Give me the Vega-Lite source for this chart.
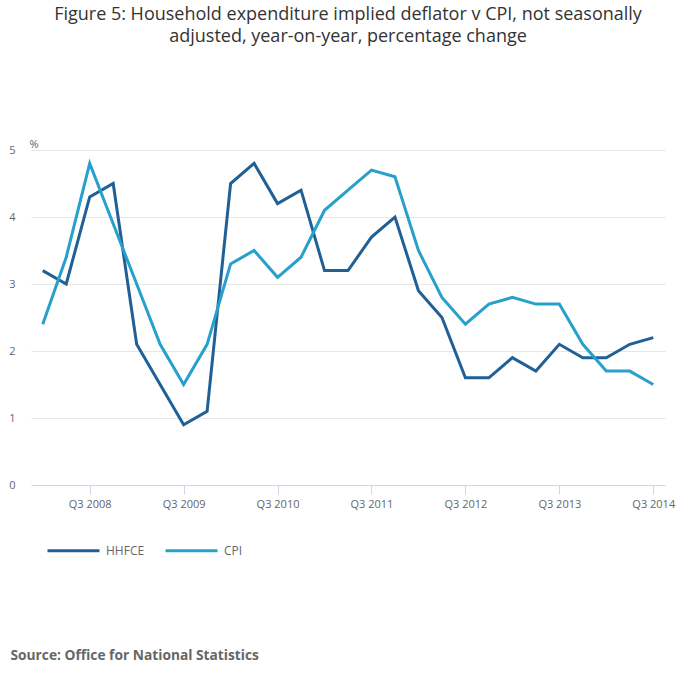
{
  "$schema": "https://vega.github.io/schema/vega-lite/v6.json",
  "width": 634,
  "height": 335,
  "autosize": "none",
  "padding": {"left": 31, "top": 150, "right": 35, "bottom": 197},
  "background": "white",
  "config": {
    "font": "Open Sans",
    "view": {"stroke": null}
  },
  "title": {
    "text": ["Figure 5: Household expenditure implied deflator v CPI, not seasonally", "adjusted, year-on-year, percentage change"],
    "fontSize": 18,
    "fontWeight": "normal",
    "color": "#333333",
    "lineHeight": 22,
    "anchor": "middle",
    "frame": "group",
    "offset": 92
  },
  "data": {
    "values": [
      {"quarter": "Q1 2008", "series": "HHFCE", "value": 3.2},
      {"quarter": "Q2 2008", "series": "HHFCE", "value": 3.0},
      {"quarter": "Q3 2008", "series": "HHFCE", "value": 4.3},
      {"quarter": "Q4 2008", "series": "HHFCE", "value": 4.5},
      {"quarter": "Q1 2009", "series": "HHFCE", "value": 2.1},
      {"quarter": "Q2 2009", "series": "HHFCE", "value": 1.5},
      {"quarter": "Q3 2009", "series": "HHFCE", "value": 0.9},
      {"quarter": "Q4 2009", "series": "HHFCE", "value": 1.1},
      {"quarter": "Q1 2010", "series": "HHFCE", "value": 4.5},
      {"quarter": "Q2 2010", "series": "HHFCE", "value": 4.8},
      {"quarter": "Q3 2010", "series": "HHFCE", "value": 4.2},
      {"quarter": "Q4 2010", "series": "HHFCE", "value": 4.4},
      {"quarter": "Q1 2011", "series": "HHFCE", "value": 3.2},
      {"quarter": "Q2 2011", "series": "HHFCE", "value": 3.2},
      {"quarter": "Q3 2011", "series": "HHFCE", "value": 3.7},
      {"quarter": "Q4 2011", "series": "HHFCE", "value": 4.0},
      {"quarter": "Q1 2012", "series": "HHFCE", "value": 2.9},
      {"quarter": "Q2 2012", "series": "HHFCE", "value": 2.5},
      {"quarter": "Q3 2012", "series": "HHFCE", "value": 1.6},
      {"quarter": "Q4 2012", "series": "HHFCE", "value": 1.6},
      {"quarter": "Q1 2013", "series": "HHFCE", "value": 1.9},
      {"quarter": "Q2 2013", "series": "HHFCE", "value": 1.7},
      {"quarter": "Q3 2013", "series": "HHFCE", "value": 2.1},
      {"quarter": "Q4 2013", "series": "HHFCE", "value": 1.9},
      {"quarter": "Q1 2014", "series": "HHFCE", "value": 1.9},
      {"quarter": "Q2 2014", "series": "HHFCE", "value": 2.1},
      {"quarter": "Q3 2014", "series": "HHFCE", "value": 2.2},
      {"quarter": "Q1 2008", "series": "CPI", "value": 2.4},
      {"quarter": "Q2 2008", "series": "CPI", "value": 3.4},
      {"quarter": "Q3 2008", "series": "CPI", "value": 4.8},
      {"quarter": "Q4 2008", "series": "CPI", "value": 3.9},
      {"quarter": "Q1 2009", "series": "CPI", "value": 3.0},
      {"quarter": "Q2 2009", "series": "CPI", "value": 2.1},
      {"quarter": "Q3 2009", "series": "CPI", "value": 1.5},
      {"quarter": "Q4 2009", "series": "CPI", "value": 2.1},
      {"quarter": "Q1 2010", "series": "CPI", "value": 3.3},
      {"quarter": "Q2 2010", "series": "CPI", "value": 3.5},
      {"quarter": "Q3 2010", "series": "CPI", "value": 3.1},
      {"quarter": "Q4 2010", "series": "CPI", "value": 3.4},
      {"quarter": "Q1 2011", "series": "CPI", "value": 4.1},
      {"quarter": "Q2 2011", "series": "CPI", "value": 4.4},
      {"quarter": "Q3 2011", "series": "CPI", "value": 4.7},
      {"quarter": "Q4 2011", "series": "CPI", "value": 4.6},
      {"quarter": "Q1 2012", "series": "CPI", "value": 3.5},
      {"quarter": "Q2 2012", "series": "CPI", "value": 2.8},
      {"quarter": "Q3 2012", "series": "CPI", "value": 2.4},
      {"quarter": "Q4 2012", "series": "CPI", "value": 2.7},
      {"quarter": "Q1 2013", "series": "CPI", "value": 2.8},
      {"quarter": "Q2 2013", "series": "CPI", "value": 2.7},
      {"quarter": "Q3 2013", "series": "CPI", "value": 2.7},
      {"quarter": "Q4 2013", "series": "CPI", "value": 2.1},
      {"quarter": "Q1 2014", "series": "CPI", "value": 1.7},
      {"quarter": "Q2 2014", "series": "CPI", "value": 1.7},
      {"quarter": "Q3 2014", "series": "CPI", "value": 1.5}
    ]
  },
  "mark": {"type": "line", "strokeWidth": 3, "strokeCap": "butt", "strokeJoin": "miter"},
  "encoding": {
    "x": {
      "field": "quarter",
      "type": "ordinal",
      "sort": null,
      "scale": {"type": "point", "padding": 0.5},
      "axis": {
        "values": ["Q3 2008", "Q3 2009", "Q3 2010", "Q3 2011", "Q3 2012", "Q3 2013", "Q3 2014"],
        "labelAngle": 0,
        "labelFontSize": 11,
        "labelColor": "#666666",
        "labelPadding": 4,
        "domainColor": "#ccd6eb",
        "tickColor": "#ccd6eb",
        "tickSize": 9,
        "grid": false,
        "title": "Source: Office for National Statistics",
        "titleFontSize": 13.75,
        "titleFontWeight": "bold",
        "titleColor": "#666666",
        "titleAnchor": "start",
        "titleAlign": "left",
        "titleBaseline": "middle",
        "titleX": -21,
        "titleY": 170
      }
    },
    "y": {
      "field": "value",
      "type": "quantitative",
      "scale": {"domain": [0, 5], "nice": false},
      "axis": {
        "values": [0, 1, 2, 3, 4, 5],
        "labelFontSize": 11,
        "labelColor": "#666666",
        "labelPadding": 16,
        "domain": false,
        "ticks": false,
        "gridColor": "#e6e6e6",
        "title": "%",
        "titleAngle": 0,
        "titleFontSize": 11,
        "titleFontWeight": "normal",
        "titleColor": "#666666",
        "titleAlign": "left",
        "titleBaseline": "bottom",
        "titleX": -2,
        "titleY": -1
      }
    },
    "color": {
      "field": "series",
      "type": "nominal",
      "sort": ["HHFCE", "CPI"],
      "scale": {"domain": ["HHFCE", "CPI"], "range": ["#206095", "#27a0cc"]},
      "legend": {
        "orient": "none",
        "direction": "horizontal",
        "legendX": 15,
        "legendY": 373,
        "title": null,
        "symbolType": "stroke",
        "symbolSize": 2704,
        "symbolStrokeWidth": 3,
        "labelFontSize": 12,
        "labelColor": "#666666",
        "labelOffset": 5,
        "columnPadding": 14
      }
    }
  }
}
